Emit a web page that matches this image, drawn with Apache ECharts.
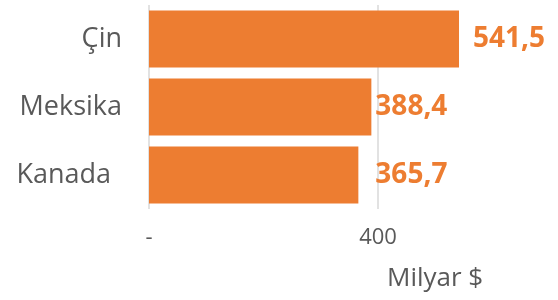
<!DOCTYPE html>
<html>
<head>
<meta charset="utf-8">
<script src="https://cdn.jsdelivr.net/npm/echarts@6/dist/echarts.min.js"></script>
<style>
  html, body { margin: 0; padding: 0; background: #fff; }
  #chart { width: 558px; height: 300px; }
</style>
</head>
<body>
<div id="chart"></div>
<script>
const categories = ["Çin", "Meksika", "Kanada"];
const values = [541.5, 388.4, 365.7];
const xTicks = [0, 400, 800];
const unitLabel = "Milyar $";

// label gaps (Excel placed them unevenly)
const labelGaps = [14, 4, 17];

const chart = echarts.init(document.getElementById("chart"));

const barData = values.map((v, i) => ({
  value: v,
  label: { distance: labelGaps[i] },
}));

const option = {
  backgroundColor: "#fff",
  animation: false,
  title: {
    text: unitLabel,
    left: 382,
    top: 261,
    textStyle: {
      fontFamily: "Open Sans",
      fontSize: 26,
      fontWeight: "normal",
      color: "#595959",
    },
  },
  grid: {
    left: 149,
    top: 5,
    width: 458, // 800 sits past the right edge, only 0 and 400 are visible
    height: 204,
    containLabel: false,
    outerBoundsMode: "none",
  },
  xAxis: {
    type: "value",
    min: xTicks[0],
    max: xTicks[xTicks.length - 1],
    interval: 400,
    axisLine: { show: false },
    axisTick: { show: false },
    axisLabel: {
      margin: 18,
      color: "#595959",
      fontFamily: "Open Sans",
      fontSize: 22,
      formatter: (v) => (v === 0 ? "-" : String(v)),
    },
    splitLine: {
      lineStyle: { color: "#d9d9d9", width: 1.5 },
    },
  },
  yAxis: {
    type: "category",
    inverse: true,
    data: categories.map((c) =>
      c === "Kanada" ? { value: c, textStyle: { padding: [0, 11, 0, 0] } } : c
    ),
    axisLine: { show: false },
    axisTick: { show: false },
    axisLabel: {
      margin: 27,
      color: "#595959",
      fontFamily: "Open Sans",
      fontSize: 27,
    },
  },
  series: [
    {
      type: "bar",
      data: barData,
      barCategoryGap: "16%",
      itemStyle: { color: "#ED7D31" },
      label: {
        show: true,
        position: "right",
        color: "#ED7D31",
        fontFamily: "Open Sans",
        fontWeight: "bold",
        fontSize: 28,
        formatter: (p) => p.value.toFixed(1).replace(".", ","),
      },
    },
  ],
};

chart.setOption(option);
</script>
</body>
</html>
